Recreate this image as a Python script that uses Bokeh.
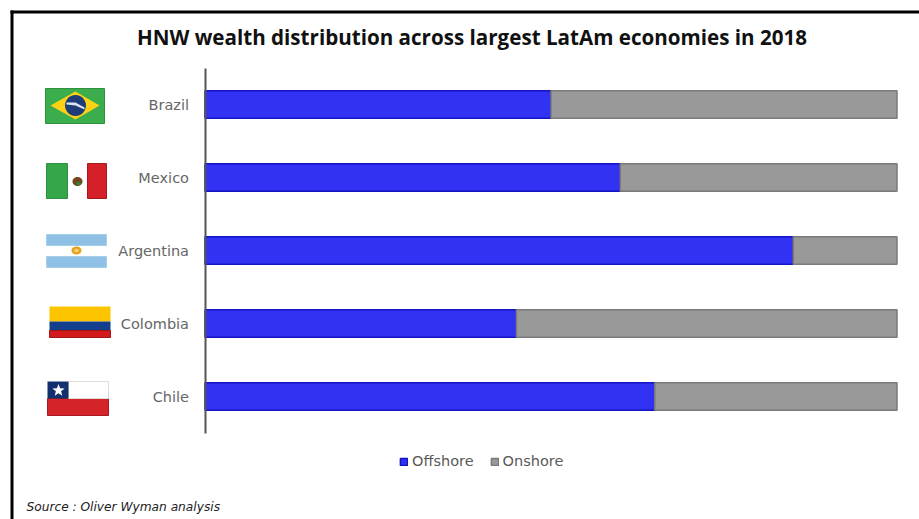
import math

from bokeh.embed import file_html
from bokeh.models import (BoxAnnotation, ColumnDataSource, FixedTicker, Label, Legend,
                          LegendItem, PolyAnnotation, Range1d)
from bokeh.plotting import figure
from bokeh.resources import INLINE

# Share of high-net-worth wealth per country, percent
countries = ["Brazil", "Mexico", "Argentina", "Colombia", "Chile"]
offshore = [50, 60, 85, 45, 65]
onshore = [50, 40, 15, 55, 35]
series = ["Offshore", "Onshore"]
title_text = "HNW wealth distribution across largest LatAm economies in 2018"
source_text = "Source : Oliver Wyman analysis"

rows = list(range(len(countries)))
source = ColumnDataSource(dict(row=rows, Offshore=offshore, Onshore=onshore))

# The frame fills the page so that the flags, title and notes share its drawing area
PX_PER_PCT = 6.92
PX_PER_ROW = 73
p = figure(width=919, height=519, output_backend="svg", toolbar_location=None,
           x_range=Range1d(-204.5 / PX_PER_PCT, (919 - 204.5) / PX_PER_PCT),
           y_range=Range1d((519 - 104) / PX_PER_ROW, -104 / PX_PER_ROW),
           min_border_left=0, min_border_right=0, min_border_top=0, min_border_bottom=0,
           background_fill_color="white", border_fill_color="white", outline_line_color=None)

bars = p.hbar_stack(series, y="row", height=0.375, source=source,
                    color=["#3232f5", "#999999"], line_color=["#1414c4", "#7a7a7a"], line_width=1.5)

p.xaxis.visible = False
p.xgrid.visible = False
p.ygrid.visible = False
axis = p.yaxis[0]
axis.fixed_location = 0
axis.bounds = (-0.5, 4.5)
axis.ticker = FixedTicker(ticks=rows)
axis.major_label_overrides = dict(zip(rows, countries))
axis.axis_line_color = "#555555"
axis.axis_line_width = 2
axis.major_tick_line_color = None
axis.minor_tick_line_color = None
axis.major_label_standoff = 10
axis.major_label_text_font = "DejaVu Sans"
axis.major_label_text_font_size = "14.5px"
axis.major_label_text_color = "#666666"


def rect(x0, y0, x1, y1, fill, line=None, width=1):
    """Filled rectangle positioned in canvas pixels."""
    p.add_layout(BoxAnnotation(left=x0, right=x1, top=y0, bottom=y1,
                               left_units="canvas", right_units="canvas",
                               top_units="canvas", bottom_units="canvas",
                               fill_color=fill, fill_alpha=1,
                               line_color=line, line_alpha=1 if line else 0, line_width=width,
                               level="annotation"))


def poly(xs, ys, fill):
    """Filled polygon positioned in canvas pixels."""
    p.add_layout(PolyAnnotation(xs=xs, ys=ys, xs_units="canvas", ys_units="canvas",
                                fill_color=fill, fill_alpha=1, line_alpha=0,
                                level="annotation"))


def disc(cx, cy, rx, ry, fill):
    angles = [2 * math.pi * i / 28 for i in range(28)]
    poly([cx + rx * math.cos(a) for a in angles], [cy + ry * math.sin(a) for a in angles], fill)


def star(cx, cy, r, fill):
    angles = [-math.pi / 2 + math.pi * i / 5 for i in range(10)]
    radii = [r if i % 2 == 0 else r * 0.42 for i in range(10)]
    poly([cx + q * math.cos(a) for q, a in zip(radii, angles)],
         [cy + q * math.sin(a) for q, a in zip(radii, angles)], fill)


# Page frame: heavy rule along the top and left edges
rect(10, 10, 919, 13, "#000000")
rect(10, 10, 13, 519, "#000000")

# Brazil
rect(45, 88, 104, 123, "#3cad4c", "#2f9040")
poly([50, 75, 99, 75], [105, 91, 105, 119], "#fdd116")
disc(75, 105, 10.5, 10.5, "#1d3c78")
poly([66, 75, 84, 84, 75, 66], [102, 102, 107, 109, 105, 104], "#d9e4ee")

# Mexico
rect(46, 163, 67, 198, "#35a748", "#2f9040")
rect(87, 163, 106, 198, "#d5202a", "#a81820")
disc(77, 181, 5, 4.5, "#74451f")
disc(78, 183, 2.5, 1.8, "#3c7a3a")

# Argentina
rect(46, 234, 106, 245, "#8fc1e6", "#a8cfea")
rect(46, 256, 106, 267, "#8fc1e6", "#a8cfea")
disc(76, 250, 5, 4, "#e6a11d")
disc(76, 250, 2.4, 1.8, "#f7d06a")

# Colombia
rect(49, 306, 110, 321, "#fdc500")
rect(49, 321, 110, 330, "#143f8c")
rect(49, 330, 110, 337, "#d31a1a", "#a01515")

# Chile
rect(47, 398, 108, 415, "#d4242a", "#a81a20")
rect(68, 381, 108, 398, "#ffffff", "#dddddd")
rect(47, 381, 68, 398, "#13306e")
star(58, 390, 6.5, "#ffffff")

p.add_layout(Label(x=471.5, y=36, x_units="canvas", y_units="canvas", text=title_text,
                   text_font="Open Sans", text_font_style="bold", text_font_size="20.6px",
                   text_color="#111111", text_align="center", text_baseline="middle"))
p.add_layout(Label(x=26, y=506, x_units="canvas", y_units="canvas", text=source_text,
                   text_font="DejaVu Sans", text_font_style="italic", text_font_size="12.2px",
                   text_color="#222222", text_align="left", text_baseline="middle"))

legend = Legend(items=[LegendItem(label=name, renderers=[bar]) for name, bar in zip(series, bars)],
                orientation="horizontal", location=(399, 50), background_fill_alpha=0,
                border_line_color=None, glyph_width=9, glyph_height=9, spacing=16, padding=0,
                margin=0, label_standoff=4, label_text_font="DejaVu Sans",
                label_text_font_size="14.5px", label_text_color="#595959")
p.add_layout(legend, "center")

open("out.html", "w").write(file_html(p, INLINE))
